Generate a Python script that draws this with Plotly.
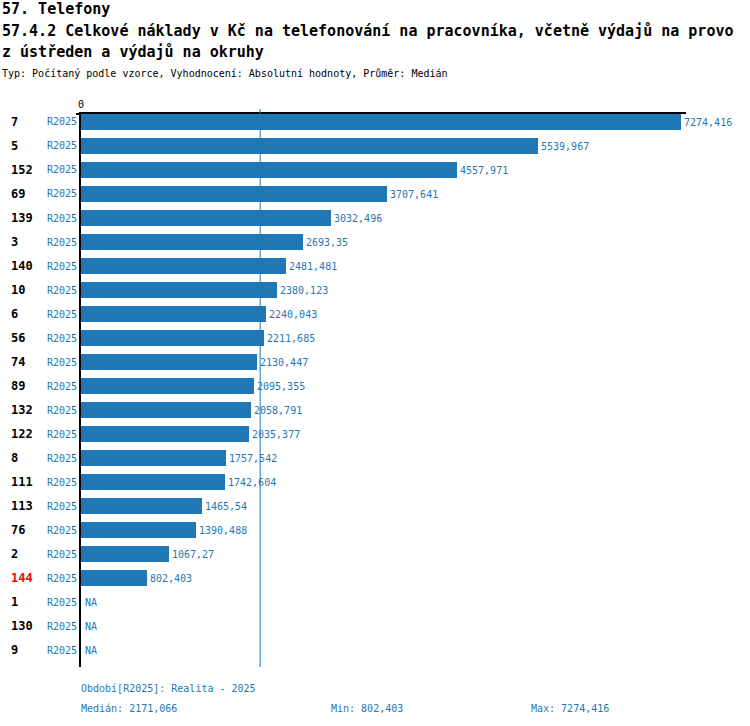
import numpy as np
import plotly.graph_objects as go

# Data
rows = ['7', '5', '152', '69', '139', '3', '140', '10', '6', '56', '74', '89',
        '132', '122', '8', '111', '113', '76', '2', '144', '1', '130', '9']
values = [7274.416, 5539.967, 4557.971, 3707.641, 3032.496, 2693.35, 2481.481,
          2380.123, 2240.043, 2211.685, 2130.447, 2095.355, 2058.791, 2035.377,
          1757.542, 1742.604, 1465.54, 1390.488, 1067.27, 802.403, None, None, None]
period = 'R2025'
highlight = '144'

title1 = '57. Telefony'
title2 = '57.4.2 Celkové náklady v Kč na telefonování na pracovníka, včetně výdajů na provo'
title3 = 'z ústředen a výdajů na okruhy'
subtitle = 'Typ: Počítaný podle vzorce, Vyhodnocení: Absolutní hodnoty, Průměr: Medián'

BLUE = '#1f77b4'
FONT = 'DejaVu Sans Mono'

W, H = 750, 726
L, R, T, B = 81, 64, 114, 59
PW, PH = W - L - R, H - T - B


def px_x(px):
    return (px - L) / PW


def px_y(py):
    return (H - B - py) / PH


def fmt(v):
    return str(v).replace('.', ',')


valid = [v for v in values if v is not None]
median = float(np.median(valid))

fig = go.Figure()
fig.add_trace(go.Bar(
    x=values,
    y=rows,
    orientation='h',
    marker=dict(color=BLUE, line=dict(width=0)),
    width=0.65,
    text=[fmt(v) if v is not None else '' for v in values],
    textposition='outside',
    textfont=dict(family=FONT, size=10, color=BLUE),
    cliponaxis=False,
    hoverinfo='x+y',
))

annotations = []
# category axis: annotations are placed by row index
for i, (r, v) in enumerate(zip(rows, values)):
    annotations.append(dict(
        x=px_x(9), xref='paper', y=i, yref='y', text=f'<b>{r}</b>',
        showarrow=False, xanchor='left', yanchor='middle',
        font=dict(family=FONT, size=12, color='#ff0000' if r == highlight else '#000000'),
    ))
    if v is None:
        annotations.append(dict(
            x=0, xref='x', y=i, yref='y', text='NA', xshift=2,
            showarrow=False, xanchor='left', yanchor='middle',
            font=dict(family=FONT, size=10, color=BLUE),
        ))

texts = [
    (title1, 0, 9, 15, '#000000', True),
    (title2, 0, 31, 15, '#000000', True),
    (title3, 0, 52, 15, '#000000', True),
    (subtitle, 0, 73, 10, '#000000', False),
    (f'Období[{period}]: Realita - 2025', 79, 688, 10, BLUE, False),
    (f'Medián: {fmt(round(median, 3))}', 79, 708, 10, BLUE, False),
    (f'Min: {fmt(min(valid))}', 329, 708, 10, BLUE, False),
    (f'Max: {fmt(max(valid))}', 529, 708, 10, BLUE, False),
]
for txt, x, y, size, color, bold in texts:
    annotations.append(dict(
        x=px_x(x), xref='paper', y=px_y(y), yref='paper',
        text=f'<b>{txt}</b>' if bold else txt,
        showarrow=False, xanchor='left', yanchor='middle',
        font=dict(family=FONT, size=size, color=color),
    ))

fig.update_layout(
    width=W, height=H,
    margin=dict(l=L, r=R, t=T, b=B, autoexpand=False),
    plot_bgcolor='white', paper_bgcolor='white',
    showlegend=False,
    bargap=0,
    annotations=annotations,
    shapes=[
        dict(type='line', xref='x', yref='paper', x0=median, x1=median,
             y0=0, y1=px_y(109), line=dict(color=BLUE, width=1)),
        # small tick at the top of the left axis
        dict(type='line', xref='paper', yref='paper', x0=px_x(76), x1=0,
             y0=1, y1=1, line=dict(color='#000000', width=2)),
    ],
)
fig.update_xaxes(
    range=[0, 7331], side='top', showgrid=False, zeroline=False,
    showline=True, linecolor='#000000', linewidth=2,
    tickvals=[0], ticktext=['0'], ticks='',
    tickfont=dict(family=FONT, size=10, color='#000000'),
)
fig.update_yaxes(
    type='category', categoryorder='array', categoryarray=rows,
    range=[len(rows) - 1 + 0.708, -0.333],
    showgrid=False, zeroline=False,
    showline=True, linecolor='#000000', linewidth=2,
    tickvals=rows, ticktext=[period] * len(rows), ticks='',
    ticklabelstandoff=0,
    tickfont=dict(family=FONT, size=10, color=BLUE),
)

# drop the page's default body margin so the figure sits at the window corner
fig.write_html('out.html', config={'displayModeBar': False},
               post_script="document.body.style.margin='0';")
